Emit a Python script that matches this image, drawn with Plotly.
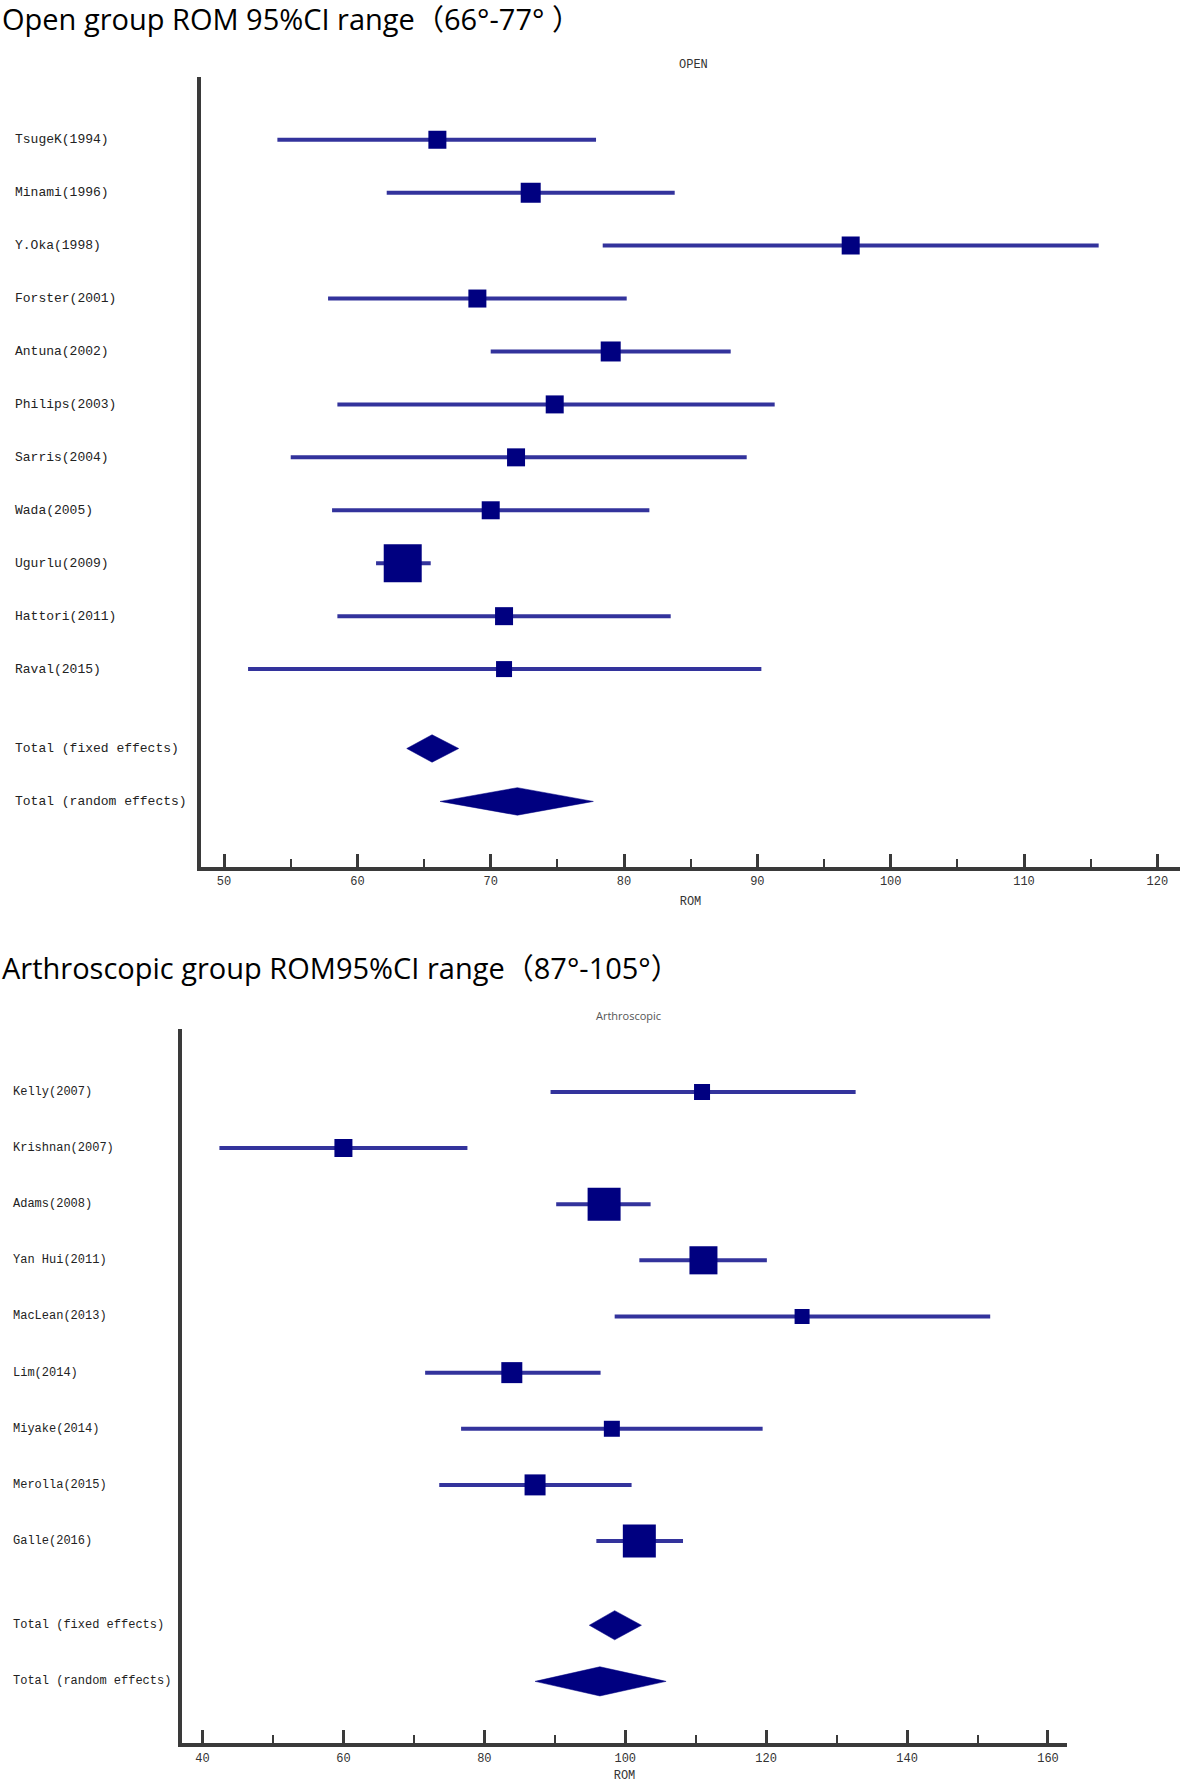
import plotly.graph_objects as go

W, H = 1182, 1783

# ---------------- data: Open group ----------------
open_studies = ["TsugeK(1994)", "Minami(1996)", "Y.Oka(1998)", "Forster(2001)", "Antuna(2002)",
                "Philips(2003)", "Sarris(2004)", "Wada(2005)", "Ugurlu(2009)", "Hattori(2011)",
                "Raval(2015)"]
open_mean = [66.0, 73.0, 97.0, 69.0, 79.0, 74.8, 71.9, 70.0, 63.4, 71.0, 71.0]
open_low = [54.0, 62.2, 78.4, 57.8, 70.0, 58.5, 55.0, 58.1, 61.4, 58.5, 51.8]
open_high = [77.9, 83.8, 115.6, 80.2, 88.0, 91.3, 89.2, 81.9, 65.5, 83.5, 90.3]
open_box_px = [18, 20, 18, 18, 20, 18, 18, 18, 38, 18, 16]
open_total_labels = ["Total (fixed effects)", "Total (random effects)"]
open_total_mean = [65.6, 72.0]
open_total_low = [63.7, 66.2]
open_total_high = [67.6, 77.7]

# ---------------- data: Arthroscopic group ----------------
arth_studies = ["Kelly(2007)", "Krishnan(2007)", "Adams(2008)", "Yan Hui(2011)", "MacLean(2013)",
                "Lim(2014)", "Miyake(2014)", "Merolla(2015)", "Galle(2016)"]
arth_mean = [110.9, 60.0, 97.0, 111.1, 125.1, 83.9, 98.1, 87.2, 102.0]
arth_low = [89.4, 42.4, 90.2, 102.0, 98.5, 71.6, 76.7, 73.6, 95.9]
arth_high = [132.7, 77.6, 103.6, 120.1, 151.8, 96.5, 119.5, 100.9, 108.2]
arth_box_px = [16, 18, 33, 28, 15, 21, 16, 21, 33]
arth_total_labels = ["Total (fixed effects)", "Total (random effects)"]
arth_total_mean = [98.5, 96.4]
arth_total_low = [94.9, 87.2]
arth_total_high = [102.3, 105.8]

LINE = "#33339c"
BOX = "#000080"
AX = "#3a3a3a"
MONO = "Liberation Mono, Courier New, monospace"
SANS = "Open Sans, Noto Sans CJK SC, sans-serif"


def px_x(p):
    return p / W


def px_y(p):
    return 1 - p / H


fig = go.Figure()
annotations = []


def add_panel(xa, ya, studies, mean, low, high, sizes, tlabels, tmean, tlow, thigh,
              label_x, label_size):
    n = len(studies)
    rows = list(range(n))
    # confidence interval lines (drawn first)
    fig.add_trace(go.Scatter(
        x=mean, y=rows, mode="markers", xaxis=xa, yaxis=ya,
        marker=dict(size=1, opacity=0),
        error_x=dict(type="data", symmetric=False,
                     array=[h - m for h, m in zip(high, mean)],
                     arrayminus=[m - l for m, l in zip(mean, low)],
                     width=0, thickness=4, color=LINE),
        showlegend=False, hoverinfo="skip"))
    # weight boxes on top
    fig.add_trace(go.Scatter(
        x=mean, y=rows, mode="markers", xaxis=xa, yaxis=ya,
        marker=dict(symbol="square", size=sizes, color=BOX, opacity=1,
                    line=dict(width=0)),
        showlegend=False, hoverinfo="skip"))
    trows = [n + 0.5, n + 1.5]
    hh = 0.26
    for r, m, l, h in zip(trows, tmean, tlow, thigh):
        fig.add_trace(go.Scatter(
            x=[l, m, h, m, l], y=[r, r - hh, r, r + hh, r], xaxis=xa, yaxis=ya,
            mode="lines", fill="toself", fillcolor=BOX, line=dict(color=BOX, width=0.5),
            showlegend=False, hoverinfo="skip"))
    for r, lab in zip(rows + trows, studies + tlabels):
        annotations.append(dict(text=lab, xref="paper", yref=ya, x=px_x(label_x), y=r,
                                xanchor="left", yanchor="middle", showarrow=False,
                                font=dict(family=MONO, size=label_size, color="#222")))


add_panel("x", "y", open_studies, open_mean, open_low, open_high, open_box_px,
          open_total_labels, open_total_mean, open_total_low, open_total_high, 13, 13)
add_panel("x2", "y2", arth_studies, arth_mean, arth_low, arth_high, arth_box_px,
          arth_total_labels, arth_total_mean, arth_total_low, arth_total_high, 11, 12)

xcommon = dict(showgrid=False, zeroline=False, showline=True, linewidth=4, linecolor=AX,
               ticks="inside", ticklen=13, tickwidth=3, tickcolor=AX,
               tickfont=dict(family=MONO, size=12, color="#333"),
               title=dict(text="ROM", font=dict(family=MONO, size=12, color="#333"), standoff=9))
ycommon = dict(showgrid=False, zeroline=False, showline=True, linewidth=4, linecolor=AX,
               showticklabels=False, ticks="")

fig.update_layout(
    width=W, height=H, margin=dict(l=0, r=0, t=0, b=0),
    paper_bgcolor="white", plot_bgcolor="white",
    xaxis=dict(domain=[px_x(201), px_x(1180)], anchor="y", range=[48.27, 121.7],
               tick0=50, dtick=10,
               minor=dict(ticks="inside", dtick=5, tick0=50, ticklen=8, tickwidth=2, tickcolor=AX),
               **xcommon),
    yaxis=dict(domain=[px_y(870), px_y(77)], anchor="x", range=[13.74, -1.19], **ycommon),
    xaxis2=dict(domain=[px_x(182), px_x(1067)], anchor="y2", range=[37.09, 162.7],
                tick0=40, dtick=20,
                minor=dict(ticks="inside", dtick=10, tick0=40, ticklen=8, tickwidth=2, tickcolor=AX),
                **xcommon),
    yaxis2=dict(domain=[px_y(1749), px_y(1032)], anchor="x2", range=[11.60, -1.13], **ycommon),
)

annotations += [
    dict(text="Open group ROM 95%CI range（66°-77° ）", xref="paper", yref="paper",
         x=0, y=px_y(19), xanchor="left", yanchor="middle", showarrow=False,
         font=dict(family=SANS, size=29, color="black")),
    dict(text="Arthroscopic group ROM95%CI range（87°-105°）", xref="paper", yref="paper",
         x=0, y=px_y(971), xanchor="left", yanchor="middle", showarrow=False,
         font=dict(family=SANS, size=29, color="black")),
    dict(text="OPEN", xref="paper", yref="paper", x=px_x(693), y=px_y(65),
         xanchor="center", yanchor="middle", showarrow=False,
         font=dict(family=MONO, size=12, color="#333")),
    dict(text="Arthroscopic", xref="paper", yref="paper", x=px_x(629), y=px_y(1019),
         xanchor="center", yanchor="middle", showarrow=False,
         font=dict(family=SANS, size=11, color="#555")),
]
fig.update_layout(annotations=annotations)

fig.write_html("out.html", config={"displayModeBar": False},
               post_script="document.body.style.margin='0';")
